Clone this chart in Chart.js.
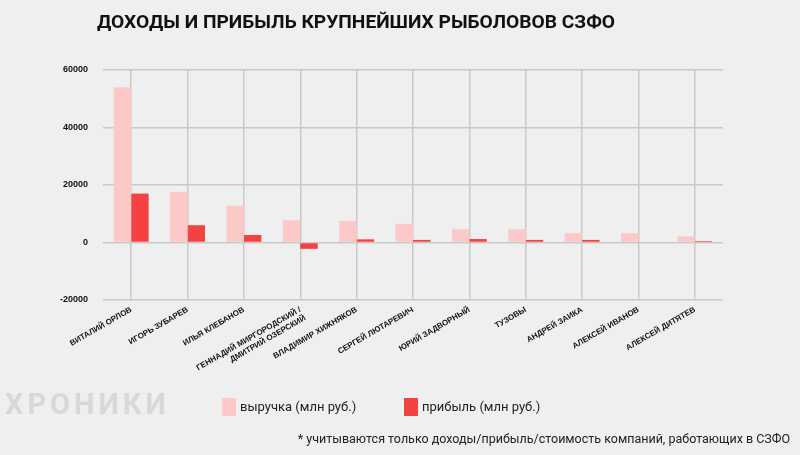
<!DOCTYPE html>
<html lang="ru">
  <head>
    <meta charset="UTF-8" />
    <title>Доходы и прибыль крупнейших рыболовов СЗФО</title>
    <script src="https://cdn.jsdelivr.net/npm/chart.js@4.4.0/dist/chart.umd.min.js"></script>
    <style>
      body { margin: 0; background: #efefef; font-family: Roboto, "Liberation Sans", sans-serif; }
      #wrap { position: relative; width: 800px; height: 455px; background: #efefef; overflow: hidden; }
      #chart { position: absolute; left: 0; top: 0; }
      h1 { position: absolute; left: 97px; top: 10px; margin: 0; font-size: 19.2px; font-weight: 700; color: #111; white-space: nowrap; }
      .logo { position: absolute; left: 5px; top: 387px; font-size: 29px; font-weight: 700; color: #d8d8d8; letter-spacing: 4px; }
      .leg { position: absolute; top: 398px; font-size: 13px; color: #222; line-height: 18px; }
      .leg i { display: inline-block; width: 14px; height: 18px; vertical-align: top; margin-right: 4px; }
      .note { position: absolute; right: 10px; top: 431px; font-size: 12.5px; color: #222; white-space: nowrap; }
    </style>
  </head>
  <body>
    <div id="wrap">
      <canvas id="chart" width="800" height="455"></canvas>
      <h1>ДОХОДЫ И ПРИБЫЛЬ КРУПНЕЙШИХ РЫБОЛОВОВ СЗФО</h1>
      <div class="logo">ХРОНИКИ</div>
      <div class="leg" style="left:222px"><i style="background:#fcc8c8"></i>выручка (млн руб.)</div>
      <div class="leg" style="left:404px"><i style="background:#f44141"></i>прибыль (млн руб.)</div>
      <div class="note">* учитываются только доходы/прибыль/стоимость компаний, работающих в СЗФО</div>
    </div>
    <script>
      const names = [
        "ВИТАЛИЙ ОРЛОВ",
        "ИГОРЬ ЗУБАРЕВ",
        "ИЛЬЯ КЛЕБАНОВ",
        ["ГЕННАДИЙ МИРГОРОДСКИЙ /", "ДМИТРИЙ ОЗЕРСКИЙ"],
        "ВЛАДИМИР ХИЖНЯКОВ",
        "СЕРГЕЙ ЛЮТАРЕВИЧ",
        "ЮРИЙ ЗАДВОРНЫЙ",
        "ТУЗОВЫ",
        "АНДРЕЙ ЗАИКА",
        "АЛЕКСЕЙ ИВАНОВ",
        "АЛЕКСЕЙ ДИТЯТЕВ"
      ];
      const revenue = [54000, 17600, 12800, 7700, 7500, 6500, 4600, 4600, 3200, 3200, 2100];
      const profit = [17000, 6000, 2600, -2200, 1100, 900, 1200, 900, 900, 0, 500];
      const yTicks = [-20000, 0, 20000, 40000, 60000];

      const ctx = document.getElementById("chart").getContext("2d");
      const myChart = new Chart(ctx, {
        type: "bar",
        data: {
          labels: names,
          datasets: [
            {
              label: "выручка (млн руб.)",
              data: revenue,
              backgroundColor: "#fcc8c8",
              categoryPercentage: 0.62,
              barPercentage: 1
            },
            {
              label: "прибыль (млн руб.)",
              data: profit,
              backgroundColor: "#f44141",
              categoryPercentage: 0.62,
              barPercentage: 1
            }
          ]
        },
        options: {
          responsive: false,
          animation: false,
          layout: { padding: { left: 53, right: 77, top: 70, bottom: 20 } },
          plugins: {
            legend: { display: false },
            tooltip: { enabled: false }
          },
          scales: {
            x: {
              grid: { offset: false, color: "#c9c9c9", lineWidth: 1.5, drawTicks: false },
              border: { display: false },
              ticks: {
                minRotation: 30,
                maxRotation: 30,
                padding: 5,
                color: "#111",
                font: { family: "Liberation Sans", size: 8, weight: "bold" }
              },
              afterFit: scale => { scale.height = 135; }
            },
            y: {
              min: yTicks[0],
              max: yTicks[yTicks.length - 1],
              afterBuildTicks: scale => { scale.ticks = yTicks.map(v => ({ value: v })); },
              grid: { color: "#c9c9c9", lineWidth: 1.5, drawTicks: false },
              border: { display: false },
              ticks: {
                padding: 15,
                color: "#111",
                font: { family: "Liberation Sans", size: 9, weight: "bold" },
                callback: v => String(v)
              },
              afterFit: scale => { scale.width = 50; }
            }
          }
        }
      });
    </script>
  </body>
</html>
